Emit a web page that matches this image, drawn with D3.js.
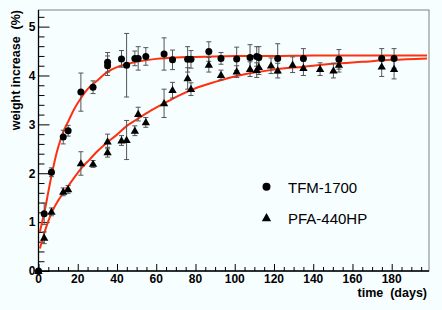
<!DOCTYPE html>
<html><head><meta charset="utf-8">
<script src="https://cdn.jsdelivr.net/npm/d3@7"></script>
<style>
html,body{margin:0;padding:0;background:#f7feff;}
svg{display:block;}
text{font-family:"Liberation Sans",Arial,Helvetica,sans-serif;}
</style></head>
<body>
<svg id="chart" width="442" height="310"></svg>
<script>
// ---- data ----
const tfmDays   = [0, 2.9, 6.6, 12.6, 15.1, 21.6, 27.8, 35.2, 35.2, 42.3, 44.9, 49.1, 50.8, 54.7, 64.0, 68.3, 76.0, 77.7, 86.8, 93.0, 101, 107.8, 111.2, 112.3, 121.9, 135, 153.1, 174.9, 181.2];
const tfmValues = [0, 1.17, 2.02, 2.74, 2.87, 3.66, 3.76, 4.27, 4.20, 4.34, 4.21, 4.35, 4.35, 4.39, 4.44, 4.32, 4.33, 4.33, 4.49, 4.35, 4.34, 4.37, 4.39, 4.37, 4.35, 4.35, 4.33, 4.35, 4.35];
const tfmErrors = [0, 0.22, 0.09, 0.14, 0.11, 0.39, 0.13, 0.2, 0.2, 0.17, 0.65, 0.15, 0.24, 0.18, 0.33, 0.2, 0.26, 0.18, 0.2, 0.12, 0.24, 0.26, 0.2, 0.22, 0.3, 0.2, 0.2, 0.2, 0.2];

const pfaDays   = [0, 2.9, 6.6, 12.6, 15.1, 21.6, 27.8, 35.2, 35.2, 42.3, 44.9, 49.1, 50.8, 54.7, 64.0, 68.3, 76.0, 77.7, 86.8, 93.0, 101, 107.8, 111.2, 112.3, 118.5, 121.9, 129.5, 135, 143.5, 150.3, 153.1, 174.9, 181.2];
const pfaValues = [0, 0.68, 1.21, 1.62, 1.67, 2.20, 2.19, 2.65, 2.43, 2.67, 2.68, 2.87, 3.21, 3.04, 3.43, 3.70, 3.94, 3.72, 4.22, 4.01, 4.08, 4.13, 4.11, 4.17, 4.20, 4.10, 4.22, 4.15, 4.13, 4.10, 4.22, 4.18, 4.13];
const pfaErrors = [0, 0.12, 0.08, 0.08, 0.08, 0.24, 0.07, 0.15, 0.1, 0.1, 0.4, 0.1, 0.14, 0.1, 0.29, 0.16, 0.22, 0.13, 0.15, 0.1, 0.12, 0.15, 0.15, 0.15, 0.16, 0.15, 0.16, 0.15, 0.13, 0.15, 0.15, 0.2, 0.2];

const tfmFitDays   = [0.7, 2, 3.5, 5, 7, 9, 11, 13, 15.5, 18, 21.5, 25, 30, 35, 40, 45, 50, 60, 70, 80, 90, 100, 120, 140, 160, 180, 198];
const tfmFitValues = [0.80, 1.03, 1.30, 1.62, 2.02, 2.38, 2.66, 2.88, 3.09, 3.30, 3.53, 3.72, 3.90, 4.07, 4.17, 4.23, 4.28, 4.34, 4.37, 4.38, 4.39, 4.40, 4.40, 4.41, 4.41, 4.41, 4.41];

const pfaFitDays   = [0.7, 2, 3, 5, 7, 10, 14, 18, 22, 26, 30, 35, 40, 45, 50, 56, 64, 72, 80, 90, 100, 110, 120, 135, 150, 165, 180, 198];
const pfaFitValues = [0.46, 0.64, 0.78, 1.02, 1.22, 1.44, 1.67, 1.90, 2.11, 2.28, 2.45, 2.63, 2.79, 2.97, 3.10, 3.25, 3.43, 3.60, 3.74, 3.87, 3.98, 4.06, 4.12, 4.18, 4.24, 4.28, 4.32, 4.35];

const xTickLabels = [0, 20, 40, 60, 80, 100, 120, 140, 160, 180];
const yTickLabels = [0, 1, 2, 3, 4, 5];
const seriesNames = ["TFM-1700", "PFA-440HP"];

// ---- drawing ----
const svg = d3.select("#chart");
const L = 38.5, R = 429, T = 10, B = 271;
const x = d3.scaleLinear().domain([0, 199]).range([L, R]);
const y = d3.scaleLinear().domain([0, 5.34]).range([B, T]);

svg.append("rect").attr("x",0).attr("y",0).attr("width",442).attr("height",310).attr("fill","#f7feff");

// frame
svg.append("rect").attr("x",L).attr("y",T).attr("width",R-L).attr("height",B-T)
  .attr("fill","none").attr("stroke","#808080").attr("stroke-width",1);

// x axis
const xMinor = d3.range(0, 200, 5).filter(v => v % 20 !== 0);
const xAxisMajor = d3.axisTop(x).tickValues(xTickLabels).tickSize(7).tickFormat("");
const xAxisMinor = d3.axisTop(x).tickValues(xMinor).tickSize(4).tickFormat("");
const gx = svg.append("g").attr("transform",`translate(0,${B})`);
gx.call(xAxisMinor); 
const gx2 = svg.append("g").attr("transform",`translate(0,${B})`).call(xAxisMajor);
[gx, gx2].forEach(g => { g.select(".domain").remove(); g.selectAll("line").attr("stroke","#000"); });
svg.append("line").attr("x1",L).attr("x2",R).attr("y1",B).attr("y2",B).attr("stroke","#000").attr("stroke-width",1.3);
svg.append("g").selectAll("text").data(xTickLabels).join("text")
  .attr("x", d => x(d)).attr("y", B + 12)
  .attr("text-anchor","middle").attr("font-size","12px").attr("font-weight","bold").text(d => d);

// y axis
const yMinor = d3.range(0, 5.35, 0.2).filter(v => Math.abs(v - Math.round(v)) > 0.01);
const gy = svg.append("g").attr("transform",`translate(${L},0)`)
  .call(d3.axisRight(y).tickValues(yMinor).tickSize(6).tickFormat(""));
const gy2 = svg.append("g").attr("transform",`translate(${L},0)`)
  .call(d3.axisRight(y).tickValues(yTickLabels).tickSize(11).tickFormat(""));
[gy, gy2].forEach(g => { g.select(".domain").remove(); g.selectAll("line").attr("stroke","#000"); });
svg.append("line").attr("x1",L).attr("x2",L).attr("y1",T).attr("y2",B).attr("stroke","#000").attr("stroke-width",1.3);
svg.append("g").selectAll("text").data(yTickLabels).join("text")
  .attr("x", L - 3).attr("y", d => y(d) + 4.3)
  .attr("text-anchor","end").attr("font-size","12px").attr("font-weight","bold").text(d => d);

// axis titles
svg.append("text").attr("transform","translate(19.5,10) rotate(-90)")
  .attr("text-anchor","end").attr("font-size","12.5px").attr("font-weight","bold")
  .attr("xml:space","preserve").text("weight increase  (%)");
svg.append("text").attr("x",427).attr("y",296.5)
  .attr("text-anchor","end").attr("font-size","12.5px").attr("font-weight","bold")
  .attr("xml:space","preserve").text("time  (days)");

// fit curves
const line = d3.line().x(d => x(d[0])).y(d => y(d[1])).curve(d3.curveMonotoneX);
const fitColor = "#ff3010";
svg.append("path").datum(d3.zip(tfmFitDays, tfmFitValues)).attr("d", line)
  .attr("fill","none").attr("stroke",fitColor).attr("stroke-width",2);
svg.append("path").datum(d3.zip(pfaFitDays, pfaFitValues)).attr("d", line)
  .attr("fill","none").attr("stroke",fitColor).attr("stroke-width",2);

// error bars
function errorBars(days, vals, errs) {
  const g = svg.append("g").attr("stroke","#555").attr("stroke-width",1);
  days.forEach((d, i) => {
    if (errs[i] <= 0) return;
    const cx = x(d), y1 = y(vals[i] - errs[i]), y2 = y(vals[i] + errs[i]);
    g.append("line").attr("x1",cx).attr("x2",cx).attr("y1",y1).attr("y2",y2);
    g.append("line").attr("x1",cx-2.5).attr("x2",cx+2.5).attr("y1",y1).attr("y2",y1);
    g.append("line").attr("x1",cx-2.5).attr("x2",cx+2.5).attr("y1",y2).attr("y2",y2);
  });
}
errorBars(pfaDays, pfaValues, pfaErrors);
errorBars(tfmDays, tfmValues, tfmErrors);

const tri = d3.symbol().type(d3.symbolTriangle).size(30);
svg.append("g").selectAll("path").data(d3.zip(pfaDays, pfaValues)).join("path")
  .attr("d", tri).attr("transform", d => `translate(${x(d[0])},${y(d[1]) + 0.5})`).attr("fill","#000");
svg.append("g").selectAll("circle").data(d3.zip(tfmDays, tfmValues)).join("circle")
  .attr("cx", d => x(d[0])).attr("cy", d => y(d[1])).attr("r",3.5).attr("fill","#000");

// legend
svg.append("circle").attr("cx",266.5).attr("cy",186.7).attr("r",4).attr("fill","#000");
svg.append("path").attr("d", d3.symbol().type(d3.symbolTriangle).size(38)())
  .attr("transform","translate(266.5,218.5)").attr("fill","#000");
svg.append("g").selectAll("text").data(seriesNames).join("text")
  .attr("x", 288).attr("y", (d, i) => i === 0 ? 192.5 : 223.5)
  .attr("font-size","15px").text(d => d);
</script>
</body></html>
